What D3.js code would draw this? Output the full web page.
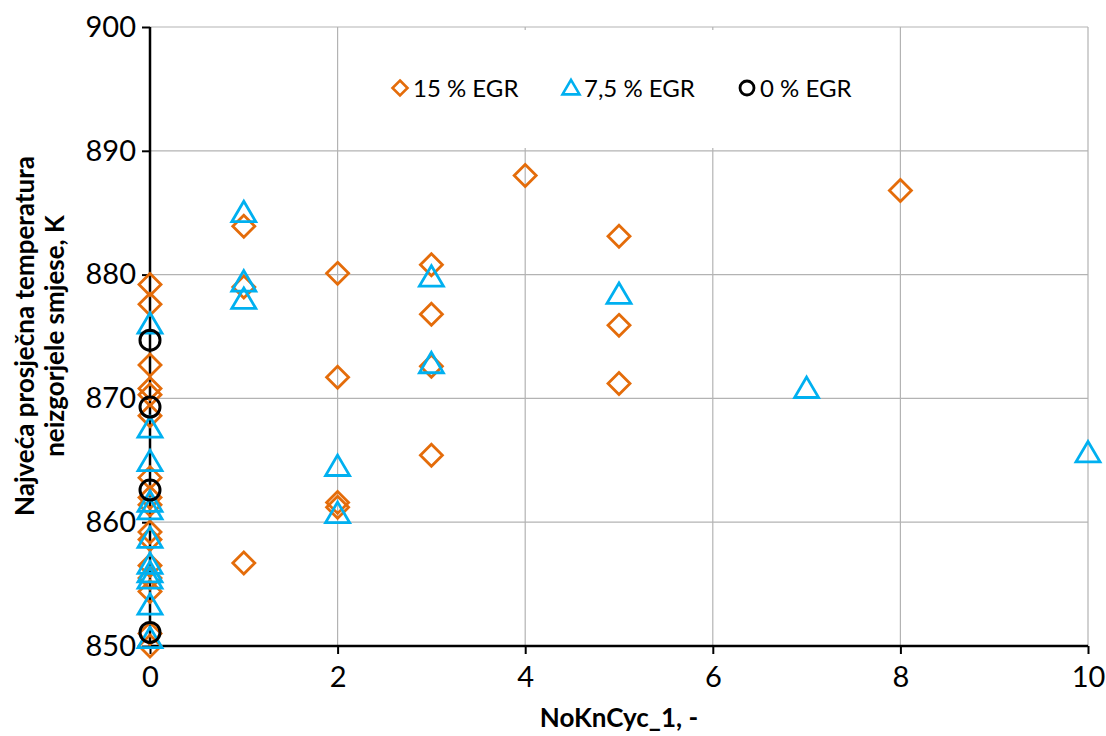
<!DOCTYPE html>
<html><head><meta charset="utf-8">
<script src="https://cdn.jsdelivr.net/npm/d3@7"></script>
<style>body{margin:0;background:#fff}svg{font-family:Lato,"Open Sans",sans-serif}</style>
</head><body><svg id="c" width="1106" height="736"></svg>
<script>
const seriesNames = ["15 % EGR", "7,5 % EGR", "0 % EGR"];
const xTicks = [0, 2, 4, 6, 8, 10];
const yTicks = [850, 860, 870, 880, 890, 900];
const egr15 = [
  [0,879.2],[0,877.6],[0,872.7],[0,870.8],[0,870.3],[0,868.6],[0,863.6],[0,862.0],[0,861.4],
  [0,859.2],[0,858.6],[0,856.5],[0,855.5],[0,854.4],[0,851.0],[0,850.0],
  [1,883.9],[1,879.0],[1,856.7],
  [2,880.1],[2,871.7],[2,861.6],[2,861.2],
  [3,880.8],[3,876.8],[3,872.6],[3,865.4],
  [4,888.0],
  [5,883.1],[5,875.9],[5,871.2],
  [8,886.8]
];
const egr75 = [
  [0,876.0],[0,867.6],[0,864.9],[0,861.6],[0,861.0],[0,858.7],[0,856.6],[0,855.9],[0,855.4],
  [0,853.3],[0,850.6],
  [1,885.0],[1,879.4],[1,878.0],
  [2,864.5],[2,860.7],
  [3,879.8],[3,872.8],
  [5,878.4],
  [7,870.8],
  [10,865.6]
];
const egr0 = [[0,874.7],[0,869.3],[0,862.6],[0,851.1]];
const colors = ["#E46C0A", "#00B0F0", "#000000"];

const svg = d3.select("#c");
const x = d3.scaleLinear().domain([0,10]).range([150,1088]);
const y = d3.scaleLinear().domain([850,900]).range([646,27]);

// gridlines
const g = svg.append("g");
g.selectAll(".hg").data(yTicks.slice(1)).join("line")
  .attr("x1",150).attr("x2",1088).attr("y1",d=>y(d)).attr("y2",d=>y(d))
  .attr("stroke","#b3b3b3").attr("stroke-width",1.2);
g.selectAll(".vg").data(xTicks.slice(1)).join("line")
  .attr("y1",27).attr("y2",646).attr("x1",d=>x(d)).attr("x2",d=>x(d))
  .attr("stroke","#b3b3b3").attr("stroke-width",1.2);

// legend box (covers gridlines)
svg.append("rect").attr("x",380).attr("y",30).attr("width",485).attr("height",118).attr("fill","#fff");

// axes
const ya = svg.append("g").attr("transform","translate(150,0)")
  .call(d3.axisLeft(y).tickValues(yTicks).tickSize(8).tickPadding(6));
const xa = svg.append("g").attr("transform","translate(0,646)")
  .call(d3.axisBottom(x).tickValues(xTicks).tickSize(8).tickPadding(12));
[ya,xa].forEach(a=>{
  a.select(".domain").attr("stroke","#000").attr("stroke-width",2.5);
  a.selectAll(".tick line").attr("stroke","#000").attr("stroke-width",2);
  a.selectAll(".tick text").attr("font-size",29).attr("fill","#000").attr("font-family","Lato");
});
ya.select(".domain").attr("d","M0,27V646");
xa.select(".domain").attr("d","M150,0H1088");

// markers
const diamond = s => `M0,${-s}L${s},0L0,${s}L${-s},0Z`;
const tri = s => `M0,${-s*0.95}L${s},${s*0.75}L${-s},${s*0.75}Z`;
function drawSeries(data, shape, color){
  const gg = svg.append("g");
  if(shape==="circle"){
    gg.selectAll("circle").data(data).join("circle")
      .attr("cx",d=>x(d[0])).attr("cy",d=>y(d[1])).attr("r",10)
      .attr("fill","none").attr("stroke",color).attr("stroke-width",3);
  } else {
    gg.selectAll("path").data(data).join("path")
      .attr("transform",d=>`translate(${x(d[0])},${y(d[1])})`)
      .attr("d", shape==="diamond"?diamond(11):tri(12))
      .attr("fill","none").attr("stroke",color).attr("stroke-width",2.8)
      .attr("stroke-linejoin","miter");
  }
}
drawSeries(egr15,"diamond",colors[0]);
drawSeries(egr75,"tri",colors[1]);
drawSeries(egr0,"circle",colors[2]);

// legend
const leg = [
  {x:400, shape:"diamond", name:seriesNames[0], c:colors[0]},
  {x:571, shape:"tri", name:seriesNames[1], c:colors[1]},
  {x:747, shape:"circle", name:seriesNames[2], c:colors[2]}
];
const ly = 88;
leg.forEach(l=>{
  if(l.shape==="circle"){
    svg.append("circle").attr("cx",l.x).attr("cy",ly).attr("r",7).attr("fill","none").attr("stroke",l.c).attr("stroke-width",2.8);
  } else {
    svg.append("path").attr("transform",`translate(${l.x},${ly})`)
      .attr("d", l.shape==="diamond"?diamond(7.5):tri(8.5))
      .attr("fill","none").attr("stroke",l.c).attr("stroke-width",2.6);
  }
  svg.append("text").attr("x",l.x+13).attr("y",ly+9).attr("font-size",24).attr("fill","#000").text(l.name);
});

// titles
svg.append("text").attr("x",619).attr("y",727).attr("text-anchor","middle")
  .attr("font-size",26).attr("font-weight","bold").text("NoKnCyc_1, -");
const yt = svg.append("text").attr("transform","translate(0,336) rotate(-90)")
  .attr("text-anchor","middle").attr("font-size",26).attr("font-weight","bold");
yt.append("tspan").attr("x",0).attr("y",34).text("Najveća prosječna temperatura");
yt.append("tspan").attr("x",0).attr("y",64).text("neizgorjele smjese, K");
</script></body></html>
